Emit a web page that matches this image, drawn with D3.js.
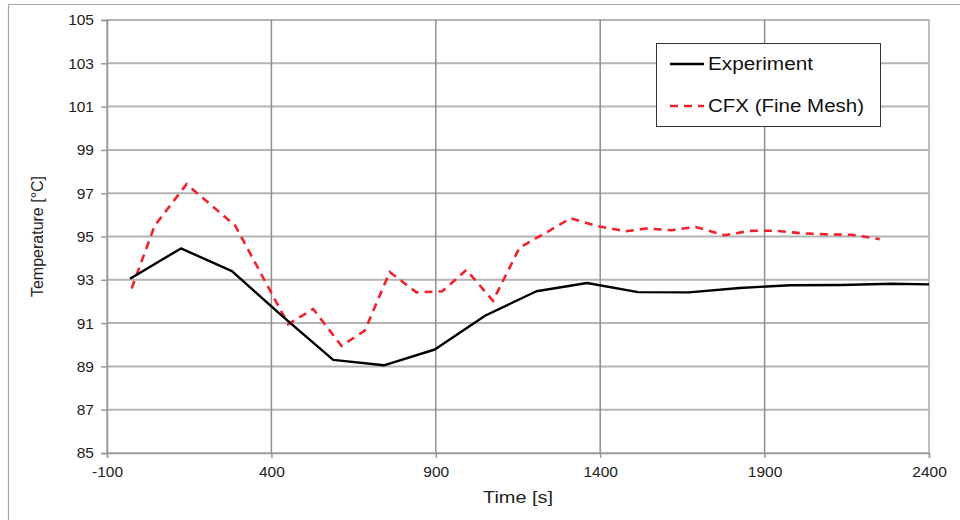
<!DOCTYPE html>
<html>
<head>
<meta charset="utf-8">
<style>
  body { margin: 0; background: #fff; font-family: "Liberation Sans", Arial, sans-serif; }
  svg { display: block; }
  .axis text { font-size: 15.5px; fill: #222; }
  .axis path { stroke: #999; stroke-width: 1.5px; }
  .axis line { stroke: #999; stroke-width: 1.5px; }
  .hgrid line { stroke: #b4b4b4; stroke-width: 2px; }
  .vgrid line { stroke: #8f8f8f; stroke-width: 1.5px; }
  .title { font-size: 16px; fill: #222; }
  .legend text { font-size: 18px; fill: #111; }
</style>
</head>
<body>
<script src="https://d3js.org/d3.v7.min.js"></script>
<script>
// values
var expTime = [-30, 125, 280, 435, 588, 742, 897, 1051, 1206, 1360, 1515, 1670, 1824, 1978, 2133, 2287, 2400];
var expTemp = [93.05, 94.45, 93.4, 91.3, 89.3, 89.05, 89.78, 91.35, 92.47, 92.85, 92.43, 92.42, 92.62, 92.75, 92.76, 92.82, 92.79];

var cfxTime = [-25, 45, 142, 290, 451, 527, 613, 684, 760, 841, 920, 993, 1074, 1155, 1231, 1310, 1388, 1477, 1540, 1615, 1690, 1779, 1855, 1930, 2010, 2090, 2165, 2250];
var cfxTemp = [92.6, 95.5, 97.42, 95.5, 90.95, 91.65, 89.95, 90.65, 93.36, 92.42, 92.47, 93.46, 92.03, 94.49, 95.14, 95.84, 95.49, 95.24, 95.37, 95.29, 95.44, 95.06, 95.26, 95.27, 95.15, 95.1, 95.08, 94.88];

var xTicks = [-100, 400, 900, 1400, 1900, 2400];
var yTicks = [85, 87, 89, 91, 93, 95, 97, 99, 101, 103, 105];

var W = 960, H = 520;
var margin = {top: 20, right: 31, bottom: 67, left: 107},
    width = W - margin.left - margin.right,
    height = H - margin.top - margin.bottom;

// plain hyphen for negatives, like the original
var fmt = function(d) { return String(d); };

var svg = d3.select("body").append("svg")
    .attr("width", W)
    .attr("height", H);

// outer chart border
svg.append("path")
    .attr("d", "M8.5," + H + " V4.5 H" + W)
    .attr("fill", "none")
    .attr("stroke", "#a6a6a6")
    .attr("stroke-width", 1.2);

var g = svg.append("g")
    .attr("transform", "translate(" + margin.left + "," + margin.top + ")");

var x = d3.scaleLinear().domain([-100, 2400]).range([0, width]);
var y = d3.scaleLinear().domain([85, 105]).range([height, 0]);

// plot area frame
g.append("rect")
    .attr("width", width)
    .attr("height", height)
    .attr("fill", "none")
    .attr("stroke", "#bdbdbd")
    .attr("stroke-width", 2);

// gridlines
g.append("g").attr("class", "hgrid")
  .selectAll("line")
    .data(yTicks.slice(1))
  .enter().append("line")
    .attr("x1", 0).attr("x2", width)
    .attr("y1", function(d) { return y(d); })
    .attr("y2", function(d) { return y(d); });

g.append("g").attr("class", "vgrid")
  .selectAll("line")
    .data(xTicks.slice(1, -1))
  .enter().append("line")
    .attr("y1", 0).attr("y2", height)
    .attr("x1", function(d) { return x(d); })
    .attr("x2", function(d) { return x(d); });

// axes
g.append("g")
    .attr("class", "axis")
    .call(d3.axisLeft(y).tickValues(yTicks).tickSize(6).tickPadding(7).tickFormat(fmt));

g.append("g")
    .attr("class", "axis")
    .attr("transform", "translate(0," + height + ")")
    .call(d3.axisBottom(x).tickValues(xTicks).tickSize(5).tickPadding(6).tickFormat(fmt))
  .selectAll("text")
    .attr("dy", "0.85em");

// axis titles
svg.append("text")
    .attr("class", "title")
    .attr("text-anchor", "middle")
    .attr("transform", "translate(43," + (margin.top + height / 2) + ") rotate(-90)")
    .text("Temperature [°C]");

svg.append("text")
    .attr("class", "title")
    .attr("text-anchor", "middle")
    .attr("x", margin.left + width / 2)
    .attr("y", 503)
    .attr("textLength", 70)
    .attr("lengthAdjust", "spacingAndGlyphs")
    .text("Time [s]");

// series lines
var line = d3.line()
    .x(function(d) { return x(d[0]); })
    .y(function(d) { return y(d[1]); });

g.append("path")
    .datum(d3.zip(cfxTime, cfxTemp))
    .attr("d", line)
    .attr("fill", "none")
    .attr("stroke", "#f0222b")
    .attr("stroke-width", 2.6)
    .attr("stroke-dasharray", "8,6");

g.append("path")
    .datum(d3.zip(expTime, expTemp))
    .attr("d", line)
    .attr("fill", "none")
    .attr("stroke", "#000")
    .attr("stroke-width", 2.4)
    .attr("stroke-linejoin", "round");

// legend
var legend = svg.append("g").attr("class", "legend");
legend.append("rect")
    .attr("x", 656.5).attr("y", 43.5)
    .attr("width", 224).attr("height", 83)
    .attr("fill", "#fff")
    .attr("stroke", "#333")
    .attr("stroke-width", 1);

legend.append("line")
    .attr("x1", 670).attr("x2", 704)
    .attr("y1", 64).attr("y2", 64)
    .attr("stroke", "#000").attr("stroke-width", 2.4);
legend.append("text")
    .attr("x", 708).attr("y", 70)
    .attr("textLength", 105)
    .attr("lengthAdjust", "spacingAndGlyphs")
    .text("Experiment");

legend.append("line")
    .attr("x1", 670).attr("x2", 704)
    .attr("y1", 106).attr("y2", 106)
    .attr("stroke", "#f0222b").attr("stroke-width", 2.6)
    .attr("stroke-dasharray", "8,6");
legend.append("text")
    .attr("x", 708).attr("y", 112)
    .attr("textLength", 156)
    .attr("lengthAdjust", "spacingAndGlyphs")
    .text("CFX (Fine Mesh)");
</script>
</body>
</html>
